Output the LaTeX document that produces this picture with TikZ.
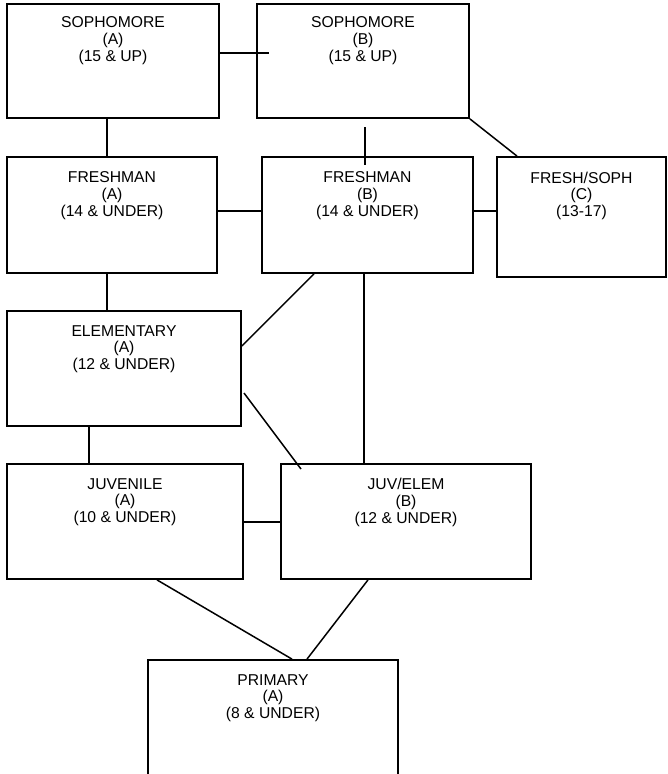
\documentclass[tikz,border=0pt]{standalone}
\usepackage{fontspec}
\setmainfont{Liberation Sans}
\begin{document}
\begin{tikzpicture}[x=1pt,y=-1pt,
  box/.style={draw, rectangle, line width=1.8pt, inner sep=0pt},
  lbl/.style={align=center, anchor=north, inner sep=0pt, font=\fontsize{15.7}{16.8}\selectfont},
  conn/.style={line width=1.5pt}]
\clip (0,0) rectangle (667,774);
% boxes
\node[box, minimum width=212pt, minimum height=114pt] (sophA) at (113,61) {};
\node[box, minimum width=212pt, minimum height=114pt] (sophB) at (363,61) {};
\node[box, minimum width=210pt, minimum height=116pt] (freshA) at (112,215) {};
\node[box, minimum width=211pt, minimum height=116pt] (freshB) at (367.5,215) {};
\node[box, minimum width=169pt, minimum height=120pt] (freshC) at (581.5,217) {};
\node[box, minimum width=234pt, minimum height=115pt] (elemA) at (124,368.5) {};
\node[box, minimum width=236pt, minimum height=115pt] (juvA) at (125,521.5) {};
\node[box, minimum width=250pt, minimum height=115pt] (juvB) at (406,521.5) {};
\node[box, minimum width=250pt, minimum height=140pt] (prim) at (273,730) {};
% labels
\node[lbl] (tsophA) at ([yshift=-13.5pt]sophA.north) {SOPHOMORE\\(A)\\(15 \& UP)};
\node[lbl] (tsophB) at ([yshift=-13.5pt]sophB.north) {SOPHOMORE\\(B)\\(15 \& UP)};
\node[lbl] (tfreshA) at ([yshift=-15.5pt]freshA.north) {FRESHMAN\\(A)\\(14 \& UNDER)};
\node[lbl] (tfreshB) at ([yshift=-15.5pt]freshB.north) {FRESHMAN\\(B)\\(14 \& UNDER)};
\node[lbl] (tfreshC) at ([yshift=-15.5pt]freshC.north) {FRESH/SOPH\\(C)\\(13-17)};
\node[lbl] (telemA) at ([yshift=-15pt]elemA.north) {ELEMENTARY\\(A)\\(12 \& UNDER)};
\node[lbl] (tjuvA) at ([yshift=-15pt]juvA.north) {JUVENILE\\(A)\\(10 \& UNDER)};
\node[lbl] (tjuvB) at ([yshift=-15pt]juvB.north) {JUV/ELEM\\(B)\\(12 \& UNDER)};
\node[lbl] (tprim) at ([yshift=-15pt]prim.north) {PRIMARY\\(A)\\(8 \& UNDER)};
% helper coordinates
\coordinate (hAB) at (269,53);
\coordinate (vA) at (107,0);
\coordinate (sB1) at (365,127);
\coordinate (sB2) at (365,165);
\coordinate (hC) at (517,0);
\coordinate (hF) at (0,211);
\coordinate (dF1) at (314,0);
\coordinate (dF2) at (0,346);
\coordinate (vB) at (364,0);
\coordinate (dE1) at (244,393);
\coordinate (dE2) at (301,469);
\coordinate (vE) at (89,0);
\coordinate (hJ) at (0,522);
\coordinate (pJA) at (157,0);
\coordinate (pA) at (292,0);
\coordinate (pJB) at (368,0);
\coordinate (pB) at (307,0);
% connectors
\draw[conn] (sophA.east |- hAB) -- (hAB);
\draw[conn] (sophA.south -| vA) -- (freshA.north -| vA);
\draw[conn] (sB1) -- (sB2);
\draw[conn] (sophB.south east) -- (freshC.north -| hC);
\draw[conn] (freshA.east |- hF) -- (freshB.west |- hF);
\draw[conn] (freshB.east |- hF) -- (freshC.west |- hF);
\draw[conn] (freshA.south -| vA) -- (elemA.north -| vA);
\draw[conn] (freshB.south -| dF1) -- (elemA.east |- dF2);
\draw[conn] (freshB.south -| vB) -- (juvB.north -| vB);
\draw[conn] (dE1) -- (dE2);
\draw[conn] (elemA.south -| vE) -- (juvA.north -| vE);
\draw[conn] (juvA.east |- hJ) -- (juvB.west |- hJ);
\draw[conn] (juvA.south -| pJA) -- (prim.north -| pA);
\draw[conn] (juvB.south -| pJB) -- (prim.north -| pB);
\end{tikzpicture}
\end{document}
